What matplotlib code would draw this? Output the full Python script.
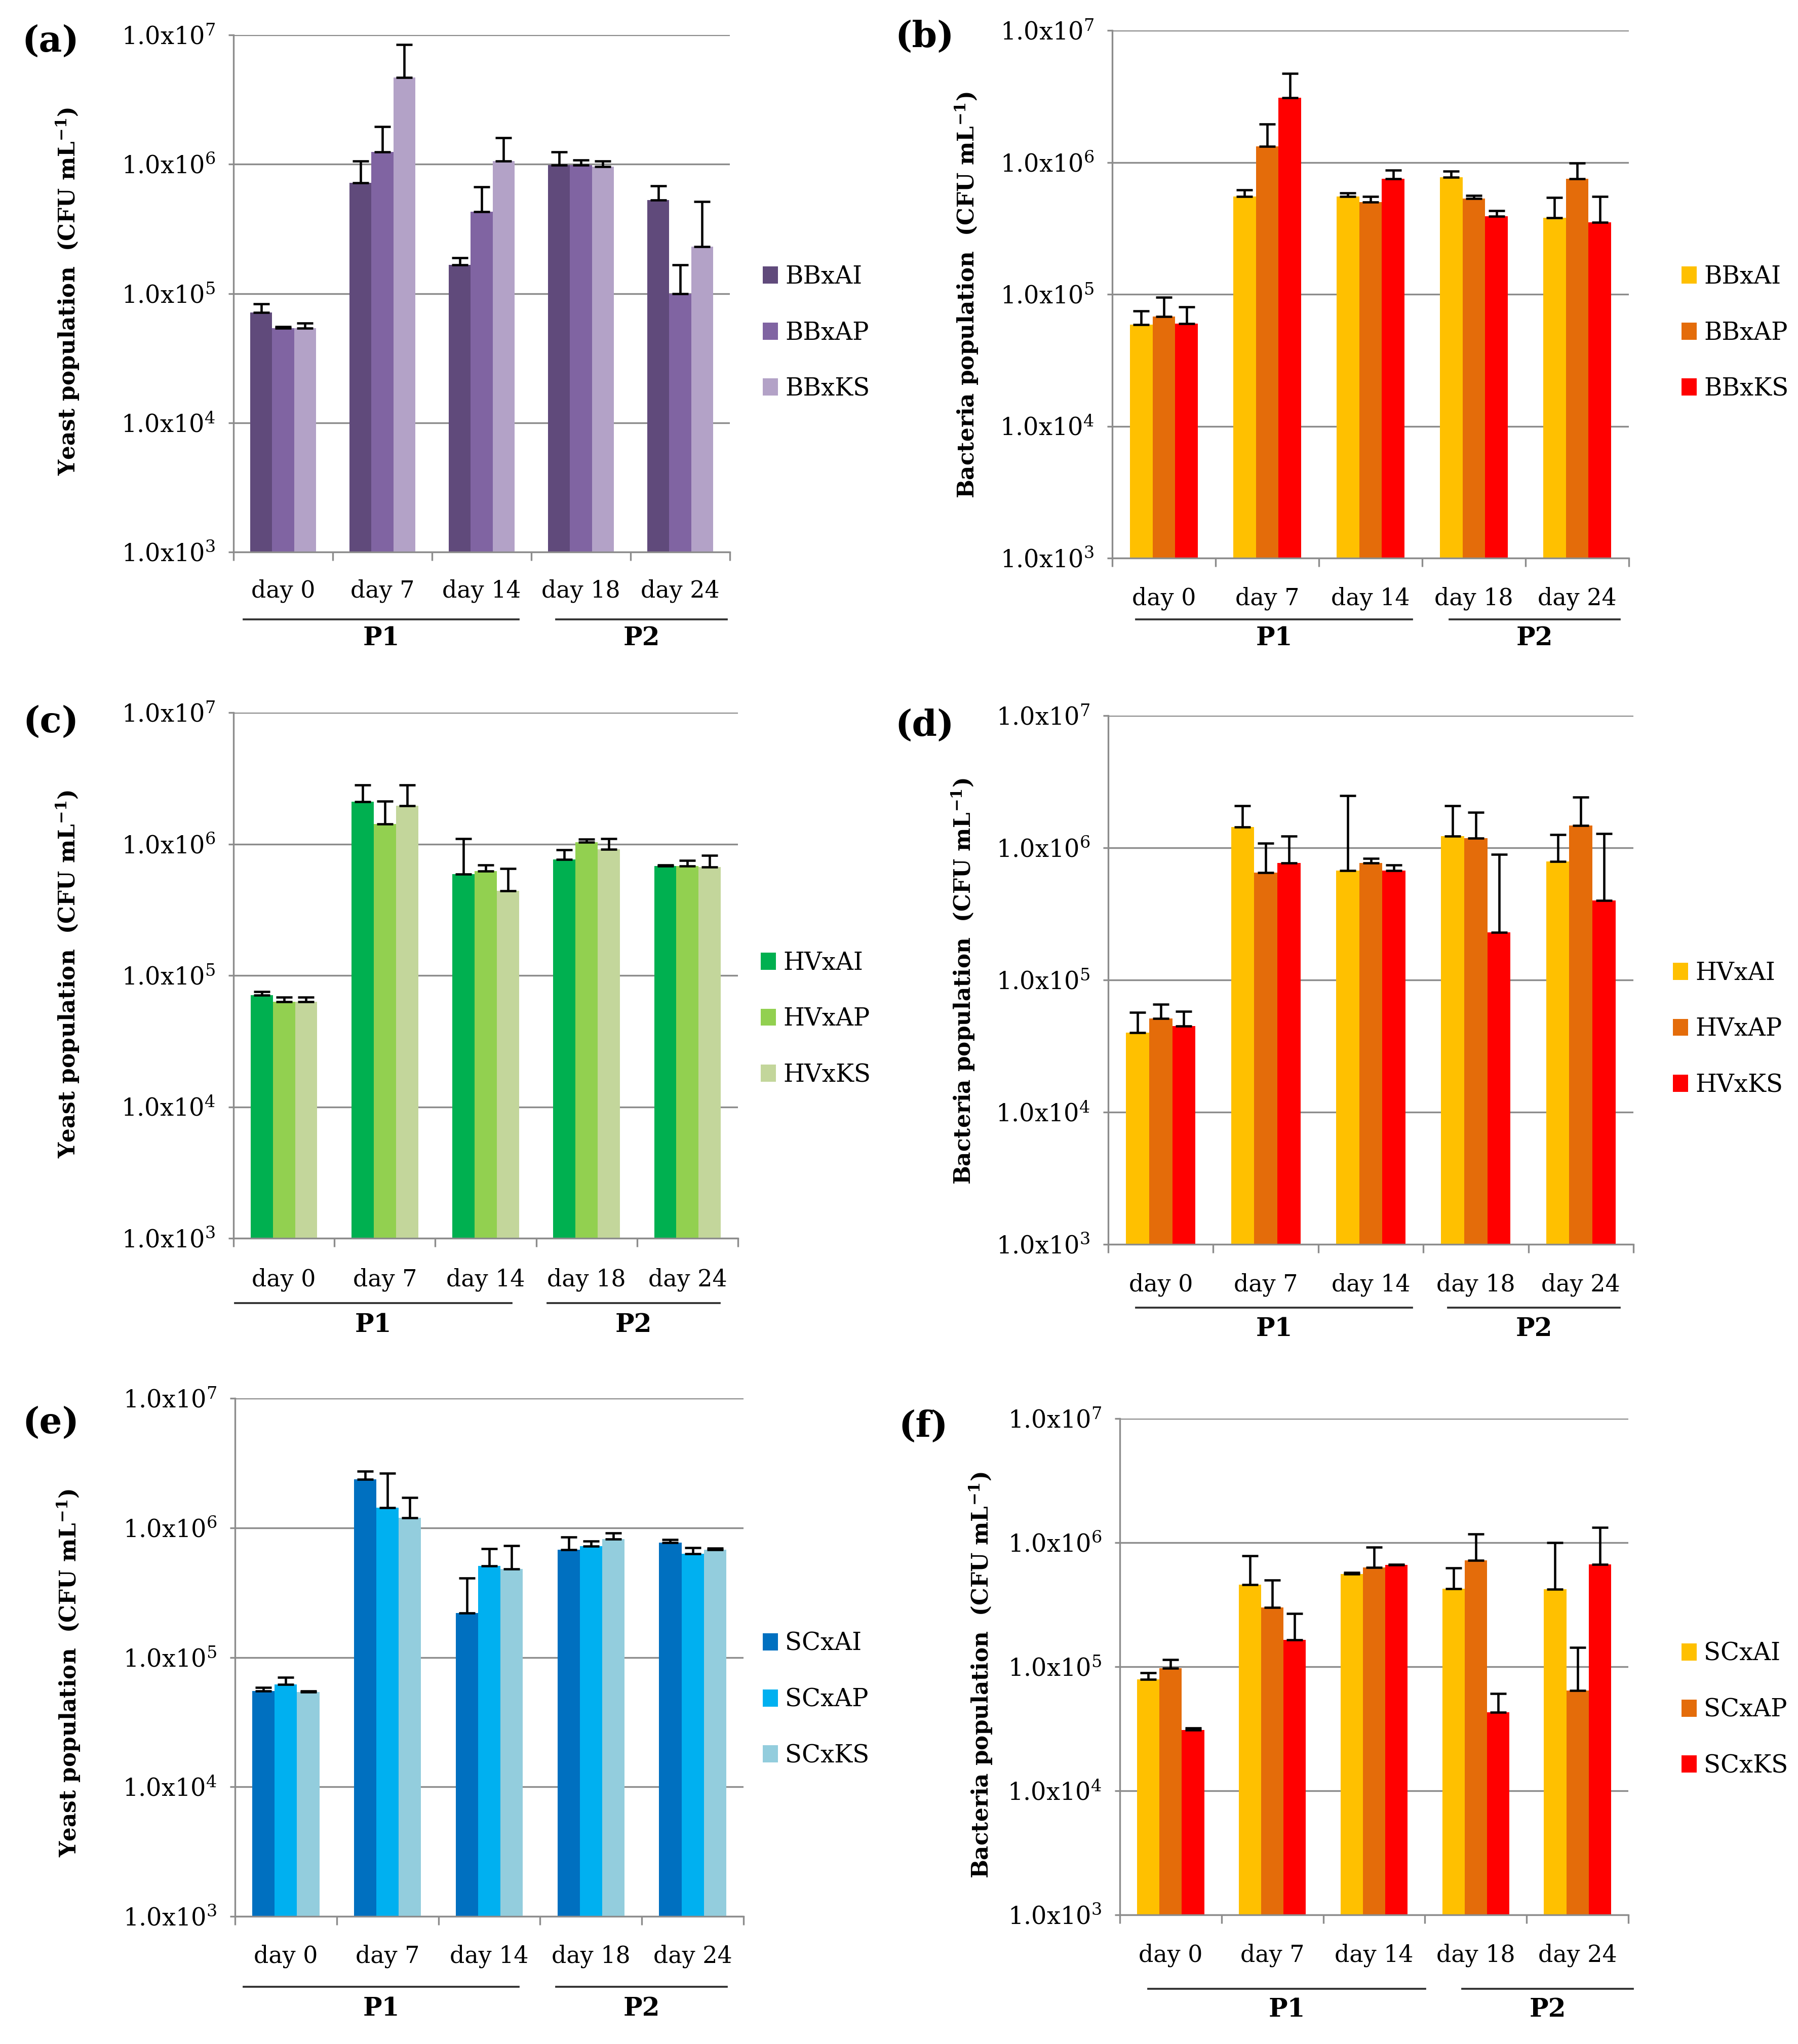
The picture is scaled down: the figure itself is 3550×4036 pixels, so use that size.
import numpy as np
import matplotlib.pyplot as plt
from matplotlib.lines import Line2D
from matplotlib.ticker import NullLocator
from matplotlib.transforms import blended_transform_factory

plt.rcParams["font.family"] = "DejaVu Serif"
plt.rcParams["mathtext.fontset"] = "dejavuserif"

W, H = 3550, 4036
DPI = 300

# ---- data (CFU/mL) ----
days = ["day 0", "day 7", "day 14", "day 18", "day 24"]

bb_names = ["BBxAI", "BBxAP", "BBxKS"]
bb_yeast = [[7.1e4, 7.2e5, 1.67e5, 9.8e5, 5.3e5],
            [5.4e4, 1.25e6, 4.3e5, 9.8e5, 1.0e5],
            [5.4e4, 4.7e6, 1.06e6, 9.6e5, 2.3e5]]
bb_yeast_sd = [[1.2e4, 3.4e5, 2.2e4, 2.7e5, 1.5e5],
               [1.5e3, 7.0e5, 2.4e5, 1.0e5, 6.7e4],
               [5.0e3, 3.7e6, 5.4e5, 1.0e5, 2.85e5]]
bb_bact = [[5.9e4, 5.5e5, 5.5e5, 7.7e5, 3.8e5],
           [6.8e4, 1.32e6, 5.0e5, 5.3e5, 7.5e5],
           [6.0e4, 3.1e6, 7.5e5, 3.9e5, 3.5e5]]
bb_bact_sd = [[1.6e4, 6.5e4, 3.5e4, 9.0e4, 1.6e5],
              [2.7e4, 6.3e5, 5.0e4, 3.0e4, 2.4e5],
              [2.0e4, 1.6e6, 1.2e5, 4.0e4, 2.0e5]]

hv_names = ["HVxAI", "HVxAP", "HVxKS"]
hv_yeast = [[7.1e4, 2.1e6, 5.9e5, 7.6e5, 6.8e5],
            [6.3e4, 1.42e6, 6.2e5, 1.03e6, 6.8e5],
            [6.3e4, 1.95e6, 4.4e5, 9.1e5, 6.7e5]]
hv_yeast_sd = [[4.5e3, 7.1e5, 5.1e5, 1.4e5, 1.5e4],
               [5.0e3, 7.0e5, 7.0e4, 6.0e4, 7.0e4],
               [5.0e3, 8.7e5, 2.1e5, 1.9e5, 1.5e5]]
hv_bact = [[4.0e4, 1.43e6, 6.75e5, 1.22e6, 7.9e5],
           [5.1e4, 6.5e5, 7.7e5, 1.18e6, 1.48e6],
           [4.5e4, 7.7e5, 6.7e5, 2.3e5, 4.0e5]]
hv_bact_sd = [[1.7e4, 6.5e5, 1.8e6, 8.6e5, 4.7e5],
              [1.45e4, 4.3e5, 6.0e4, 6.8e5, 9.3e5],
              [1.3e4, 4.5e5, 7.0e4, 6.6e5, 8.8e5]]

sc_names = ["SCxAI", "SCxAP", "SCxKS"]
sc_yeast = [[5.5e4, 2.36e6, 2.2e5, 6.8e5, 7.7e5],
            [6.2e4, 1.43e6, 5.1e5, 7.2e5, 6.3e5],
            [5.4e4, 1.19e6, 4.8e5, 8.2e5, 6.75e5]]
sc_yeast_sd = [[3.5e3, 3.7e5, 1.9e5, 1.7e5, 4.0e4],
               [8.0e3, 1.2e6, 1.8e5, 7.0e4, 7.0e4],
               [1.0e3, 5.2e5, 2.5e5, 9.0e4, 2.0e4]]
sc_bact = [[7.9e4, 4.6e5, 5.6e5, 4.25e5, 4.2e5],
           [9.7e4, 3.0e5, 6.3e5, 7.2e5, 6.4e4],
           [3.1e4, 1.64e5, 6.6e5, 4.3e4, 6.7e5]]
sc_bact_sd = [[1.0e4, 3.2e5, 1.4e4, 2.0e5, 5.8e5],
              [1.7e4, 2.0e5, 2.9e5, 4.5e5, 7.9e4],
              [1.0e3, 1.05e5, 1.0e4, 1.8e4, 6.6e5]]

purples = ["#604A7B", "#8064A2", "#B3A2C7"]
greens = ["#00B050", "#92D050", "#C3D69B"]
blues = ["#0070C0", "#00B0F0", "#93CDDD"]
warm = ["#FFC000", "#E46C0A", "#FF0000"]

yeast_label = r"Yeast population  (CFU mL$^{\mathbf{-1}}$)"
bact_label = r"Bacteria population  (CFU mL$^{\mathbf{-1}}$)"

# panel layout in image pixels (top-left origin)
layouts = [
    dict(tag="(a)", rect=(461, 69, 1441, 1090), lab=(100, 82), ylab=(134, 575),
         cat_y=1167, line_y=1223, p_y=1261, p1=(481, 1024), p2=(1098, 1435), leg=(1506, 657)),
    dict(tag="(b)", rect=(2196, 60, 3216, 1102), lab=(1826, 73), ylab=(1909, 583),
         cat_y=1182, line_y=1223, p_y=1261, p1=(2243, 2788), p2=(2862, 3198), leg=(3320, 657)),
    dict(tag="(c)", rect=(461, 1407, 1457, 2445), lab=(100, 1426), ylab=(134, 1923),
         cat_y=2527, line_y=2573, p_y=2616, p1=(464, 1010), p2=(1081, 1421), leg=(1502, 2012)),
    dict(tag="(d)", rect=(2188, 1413, 3225, 2457), lab=(1826, 1433), ylab=(1902, 1938),
         cat_y=2537, line_y=2582, p_y=2624, p1=(2243, 2788), p2=(2859, 3198), leg=(3303, 2032)),
    dict(tag="(e)", rect=(464, 2761, 1468, 3784), lab=(100, 2810), ylab=(136, 3303),
         cat_y=3863, line_y=3923, p_y=3966, p1=(481, 1024), p2=(1098, 1435), leg=(1506, 3356)),
    dict(tag="(f)", rect=(2211, 2801, 3215, 3781), lab=(1823, 2817), ylab=(1937, 3308),
         cat_y=3861, line_y=3927, p_y=3968, p1=(2267, 2814), p2=(2887, 3224), leg=(3320, 3376)),
]

panels = [
    (bb_names, bb_yeast, bb_yeast_sd, purples, yeast_label),
    (bb_names, bb_bact, bb_bact_sd, warm, bact_label),
    (hv_names, hv_yeast, hv_yeast_sd, greens, yeast_label),
    (hv_names, hv_bact, hv_bact_sd, warm, bact_label),
    (sc_names, sc_yeast, sc_yeast_sd, blues, yeast_label),
    (sc_names, sc_bact, sc_bact_sd, warm, bact_label),
]


def fx(x):
    return x / W


def fy(y):
    return 1 - y / H


fig = plt.figure(figsize=(W / DPI, H / DPI), dpi=DPI)
grey = "#8c8c8c"
bar_w = 0.22

for lay, (names, means, sds, colors, ylab) in zip(layouts, panels):
    l, t, r, b = lay["rect"]
    ax = fig.add_axes([fx(l), fy(b), fx(r) - fx(l), fy(t) - fy(b)])
    x = np.arange(len(days)) + 0.5

    bars = []
    for i in range(3):
        pos = x + (i - 1) * bar_w
        bc = ax.bar(pos, means[i], width=bar_w, color=colors[i], zorder=2)
        bars.append(bc)
        # upper error only, caps at bar top and at end
        ax.errorbar(pos, means[i], yerr=[np.zeros(len(days)), sds[i]], fmt="none",
                    ecolor="black", elinewidth=1.1, capsize=3.8, capthick=1.1, zorder=3)

    ax.set_yscale("log")
    ax.set_ylim(1e3, 1e7)
    ax.set_xlim(0, 5)
    ax.yaxis.set_minor_locator(NullLocator())
    ax.set_yticks([1e3, 1e4, 1e5, 1e6, 1e7])
    ax.set_yticklabels([r"1.0x10$^{\mathregular{%d}}$" % k for k in range(3, 8)], fontsize=11.5)
    ax.tick_params(axis="y", length=2.5, width=0.8, color=grey, pad=6)
    ax.set_xticks(range(6))
    ax.set_xticklabels([])
    ax.tick_params(axis="x", length=4, width=0.8, color=grey)
    ax.yaxis.grid(True, color=grey, lw=0.8)
    ax.set_axisbelow(True)
    for s in ["top", "right"]:
        ax.spines[s].set_visible(False)
    for s in ["left", "bottom"]:
        ax.spines[s].set_color(grey)
        ax.spines[s].set_linewidth(0.8)

    tr = blended_transform_factory(ax.transData, fig.transFigure)
    for xi, d in zip(x, days):
        ax.text(xi, fy(lay["cat_y"]), d, transform=tr, ha="center", va="center", fontsize=11)

    for (x0, x1), lbl in [(lay["p1"], "P1"), (lay["p2"], "P2")]:
        fig.add_artist(Line2D([fx(x0), fx(x1)], [fy(lay["line_y"])] * 2,
                              transform=fig.transFigure, color="#303030", lw=0.9))
        fig.text(fx((x0 + x1) / 2), fy(lay["p_y"]), lbl, ha="center", va="center",
                 fontsize=12, fontweight="bold")

    fig.text(fx(lay["ylab"][0]), fy(lay["ylab"][1]), ylab, rotation=90, ha="center",
             va="center", fontsize=10.5, fontweight="bold")
    fig.text(fx(lay["lab"][0]), fy(lay["lab"][1]), lay["tag"], ha="center", va="center",
             fontsize=17, fontweight="bold")

    ax.legend(bars, names, loc="center left", bbox_to_anchor=(fx(lay["leg"][0]), fy(lay["leg"][1])),
              bbox_transform=fig.transFigure, frameon=False, fontsize=11.6,
              handlelength=0.62, handleheight=0.7, handletextpad=0.3, labelspacing=1.32,
              borderpad=0, borderaxespad=0)

fig.savefig("out.png", dpi=DPI)
